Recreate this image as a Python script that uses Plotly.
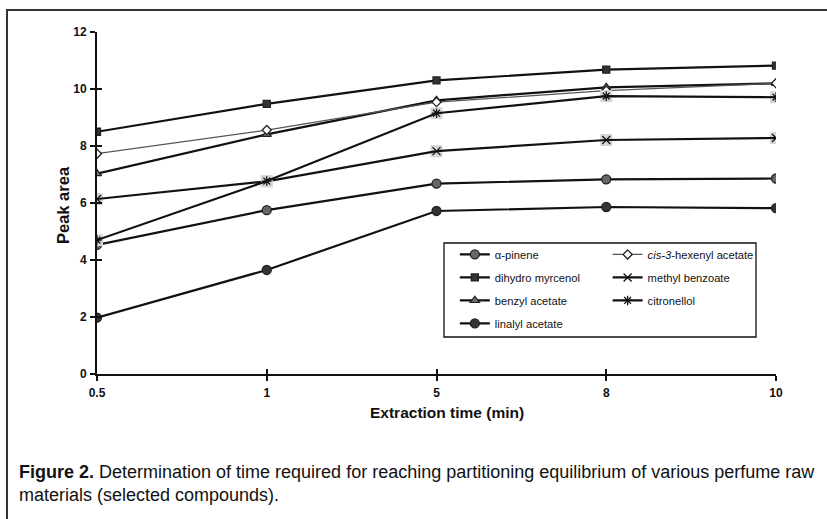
import plotly.graph_objects as go

times = ["0.5", "1", "5", "8", "10"]
alpha_pinene = [4.53, 5.75, 6.68, 6.83, 6.86]
dihydro_myrcenol = [8.50, 9.48, 10.30, 10.68, 10.82]
benzyl_acetate = [7.03, 8.41, 9.60, 10.06, 10.20]
linalyl_acetate = [1.98, 3.65, 5.72, 5.86, 5.82]
cis3_hexenyl_acetate = [7.73, 8.56, 9.54, 9.94, 10.20]
methyl_benzoate = [6.14, 6.76, 7.82, 8.21, 8.28]
citronellol = [4.70, 6.77, 9.15, 9.75, 9.71]
y_ticks = [0, 2, 4, 6, 8, 10, 12]

fig = go.Figure()

def add(name, y, symbol, size, fill, lcolor, lw, legend, bg=False, mlc="#222"):
    if bg:
        fig.add_trace(go.Scatter(x=times, y=y, mode="markers", showlegend=False,
                                 hoverinfo="skip",
                                 marker=dict(symbol="square", size=12, color="#d6d6d6",
                                             line=dict(width=0))))
    fig.add_trace(go.Scatter(
        x=times, y=y, name=name, mode="lines+markers", legend=legend, legendgroup=name,
        line=dict(color=lcolor, width=lw),
        marker=dict(symbol=symbol, size=size, color=fill,
                    line=dict(color=mlc, width=1.3))))

add("\u03b1-pinene", alpha_pinene, "circle", 9, "#666666", "#111", 2.2, "legend")
add("dihydro myrcenol", dihydro_myrcenol, "square", 7, "#333333", "#111", 2.2, "legend")
add("benzyl acetate", benzyl_acetate, "triangle-up", 8, "#777777", "#111", 2.2, "legend")
add("linalyl acetate", linalyl_acetate, "circle", 9, "#333333", "#111", 2.2, "legend")
add("<i>cis-3</i>-hexenyl acetate", cis3_hexenyl_acetate, "diamond", 7, "white", "#555", 1.2, "legend2")
add("methyl benzoate", methyl_benzoate, "x-thin-open", 8, "#111", "#111", 2.2, "legend2", bg=True, mlc="#111")
add("citronellol", citronellol, "asterisk-open", 8, "#111", "#111", 2.2, "legend2", bg=True, mlc="#111")

tickfont = dict(family="Liberation Sans, Arial", size=12, color="#111", weight="bold")

fig.update_layout(
    width=827, height=519,
    margin=dict(l=97, r=51, t=32, b=145),
    plot_bgcolor="white", paper_bgcolor="white",
    font=dict(family="Liberation Sans, Arial", color="#111"),
    xaxis=dict(type="category", range=[0, 4], showgrid=False, zeroline=False,
               showline=True, linecolor="#111", linewidth=2,
               ticks="outside", ticklen=5, tickwidth=2, tickcolor="#111",
               tickfont=tickfont, ticklabelstandoff=2),
    yaxis=dict(range=[0, 12], tickvals=y_ticks, showgrid=False, zeroline=False,
               showline=True, linecolor="#111", linewidth=2,
               ticks="outside", ticklen=5, tickwidth=2, tickcolor="#111",
               tickfont=tickfont, ticklabelstandoff=1),
    xaxis2=dict(overlaying="x", range=[0, 4], tickvals=[0, 1, 2, 3, 4], showticklabels=False,
                showgrid=False, zeroline=False, showline=False,
                ticks="inside", ticklen=5, tickwidth=2, tickcolor="#111", side="bottom"),
    yaxis2=dict(overlaying="y", range=[0, 12], tickvals=y_ticks, showticklabels=False,
                showgrid=False, zeroline=False, showline=False,
                ticks="inside", ticklen=5, tickwidth=2, tickcolor="#111", side="left"),
    legend=dict(x=0.527, y=0.392, xanchor="left", yanchor="top",
                bgcolor="rgba(0,0,0,0)", font=dict(size=11.2, family="Liberation Sans, Arial"),
                tracegroupgap=4),
    legend2=dict(x=0.752, y=0.392, xanchor="left", yanchor="top",
                 bgcolor="rgba(0,0,0,0)", font=dict(size=11.2, family="Liberation Sans, Arial"),
                 tracegroupgap=4),
)

# dummy trace to activate overlay axes
fig.add_trace(go.Scatter(x=[None], y=[None], xaxis="x2", yaxis="y2", showlegend=False, hoverinfo="skip"))

def px_x(p):
    return (p - 97) / 679.0

def px_y(p):
    return (374 - p) / 342.0

# legend box
fig.add_shape(type="rect", xref="paper", yref="paper",
              x0=px_x(444), x1=px_x(756), y0=px_y(337), y1=px_y(243),
              line=dict(color="#111", width=1.3))
# outer frame
fig.add_shape(type="rect", xref="paper", yref="paper",
              x0=px_x(7), x1=px_x(840), y0=px_y(540), y1=px_y(10),
              line=dict(color="#333", width=2))

fig.add_annotation(text="<b>Extraction time (min)</b>", xref="paper", yref="paper",
                   x=px_x(447), y=px_y(423), showarrow=False,
                   font=dict(size=15.5, family="Liberation Sans, Arial", color="#111"))
fig.add_annotation(text="<b>Peak area</b>", xref="paper", yref="paper",
                   x=px_x(52), y=px_y(205), showarrow=False, textangle=-90,
                   font=dict(size=16.5, family="Liberation Sans, Arial", color="#111"))
fig.add_annotation(
    text="<b>Figure 2.</b> Determination of time required for reaching partitioning equilibrium of various perfume raw<br>materials (selected compounds).",
    xref="paper", yref="paper", x=px_x(17), y=px_y(460), xanchor="left", yanchor="top",
    align="left", showarrow=False,
    font=dict(size=18, family="Liberation Sans Narrow, Liberation Sans", color="#111"))

fig.write_html("out.html")
